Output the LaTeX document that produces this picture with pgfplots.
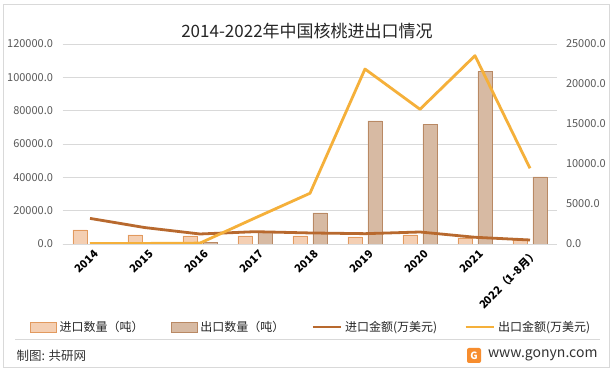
\documentclass[border=0pt]{standalone}
\usepackage{pgfplots}
\pgfplotsset{compat=1.18}
\usepackage{fontspec}
\setmainfont{Noto Sans CJK SC}
\definecolor{impbar}{HTML}{F4CFB3}
\definecolor{impbard}{HTML}{E29A5F}
\definecolor{expbar}{HTML}{D7BAA3}
\definecolor{expbard}{HTML}{B98964}
\definecolor{impline}{HTML}{B8692E}
\definecolor{expline}{HTML}{F5B03A}
\definecolor{gridc}{HTML}{D9D9D9}
\definecolor{tickc}{HTML}{595959}
\pgfplotsset{
  barleg/.style={legend image code/.code={\draw[##1] (0pt,-5pt) rectangle (26pt,5pt);}},
  lineleg/.style={legend image code/.code={\draw[##1] (0pt,0pt) -- (28pt,0pt);}},
}
\begin{document}
\begin{tikzpicture}
\path[use as bounding box] (0pt,0pt) rectangle (614pt,371pt);
\fill[white] (0pt,0pt) rectangle (614pt,371pt);
\draw[color=gridc, line width=0.8pt] (3pt,4pt) rectangle (609pt,367pt);
\node[font=\fontsize{17}{20}\selectfont, text=black!85] at (307pt,340pt) {2014-2022年中国核桃进出口情况};
\coordinate (O) at (62.5pt,127pt);
\begin{axis}[
  at={(O)}, anchor=south west, scale only axis,
  width=495pt, height=200pt,
  xmin=-0.5, xmax=8.5, ymin=0, ymax=120000,
  ybar, bar width=14pt,
  axis x line*=bottom, axis y line*=left,
  y axis line style={draw=none},
  x axis line style={draw=gridc, line width=0.8pt, -},
  major tick length=0pt,
  ymajorgrids, grid style={draw=gridc, line width=0.8pt},
  ytick={0,20000,...,120000},
  scaled y ticks=false,
  /pgf/number format/assume math mode=true,
  yticklabel style={/pgf/number format/fixed, /pgf/number format/fixed zerofill, /pgf/number format/precision=1, /pgf/number format/1000 sep={}, font=\fontsize{11}{13}\selectfont, text=tickc, xshift=-6pt},
  xtick={0,...,8},
  xticklabels={2014,2015,2016,2017,2018,2019,2020,2021,2022（1-8月）},
  xticklabel style={rotate=45, anchor=east, font=\bfseries\fontsize{11}{13}\selectfont, text=black, xshift=2pt, yshift=-10pt},
]
\addplot[fill=impbar, draw=impbard, line width=0.8pt, bar shift=-10pt] coordinates {(0,8400) (1,5400) (2,4800) (3,4800) (4,4800) (5,4200) (6,5400) (7,3600) (8,2400)};
\addplot[fill=expbar, draw=expbard, line width=0.8pt, bar shift=10pt] coordinates {(0,100) (1,100) (2,700) (3,7200) (4,18600) (5,73800) (6,71800) (7,103600) (8,40200)};
\end{axis}
\begin{axis}[
  at={(O)}, anchor=south west, scale only axis,
  width=495pt, height=200pt,
  xmin=-0.5, xmax=8.5, ymin=0, ymax=25000,
  axis y line*=right, axis x line=none,
  y axis line style={draw=none},
  major tick length=0pt,
  ytick={0,5000,...,25000},
  scaled y ticks=false,
  /pgf/number format/assume math mode=true,
  yticklabel style={/pgf/number format/fixed, /pgf/number format/fixed zerofill, /pgf/number format/precision=1, /pgf/number format/1000 sep={}, font=\fontsize{11}{13}\selectfont, text=tickc, xshift=5pt},
  legend columns=4,
  legend style={at={(axis description cs:0.502,-0.415)}, anchor=center, draw=none, fill=none, font=\fontsize{12}{14}\selectfont, text=black!85,
    /tikz/every odd column/.append style={column sep=1pt},
    /tikz/every even column/.append style={column sep=25pt}},
  legend cell align=left,
]
\addlegendimage{barleg, fill=impbar, draw=impbard, line width=0.8pt}
\addlegendentry{进口数量（吨）}
\addlegendimage{barleg, fill=expbar, draw=expbard, line width=0.8pt}
\addlegendentry{出口数量（吨）}
\addplot[impline, line width=2.8pt, line join=round, lineleg] coordinates {(0,3200) (1,2050) (2,1250) (3,1540) (4,1380) (5,1290) (6,1500) (7,840) (8,500)};
\addlegendentry{进口金额(万美元)}
\addplot[expline, line width=2.8pt, line join=round, lineleg] coordinates {(0,60) (1,70) (2,110) (3,3250) (4,6340) (5,21870) (6,16840) (7,23540) (8,9460)};
\addlegendentry{出口金额(万美元)}
\end{axis}
\draw[color=gridc, line width=0.8pt] (15pt,32pt) -- (600pt,32pt);
\node[anchor=west, font=\fontsize{12.5}{15}\selectfont, text=black!80] at (13pt,15pt) {制图: 共研网};
\node[anchor=east, font=\fontsize{14}{16}\selectfont, text=black!80] at (601pt,16pt) {www.gonyn.com};
\fill[color=expline!80!red, rounded corners=2pt] (467pt,8pt) rectangle (481pt,23pt);
\node[font=\bfseries\fontsize{10}{12}\selectfont, text=white] at (474pt,15.5pt) {G};
\end{tikzpicture}
\end{document}
